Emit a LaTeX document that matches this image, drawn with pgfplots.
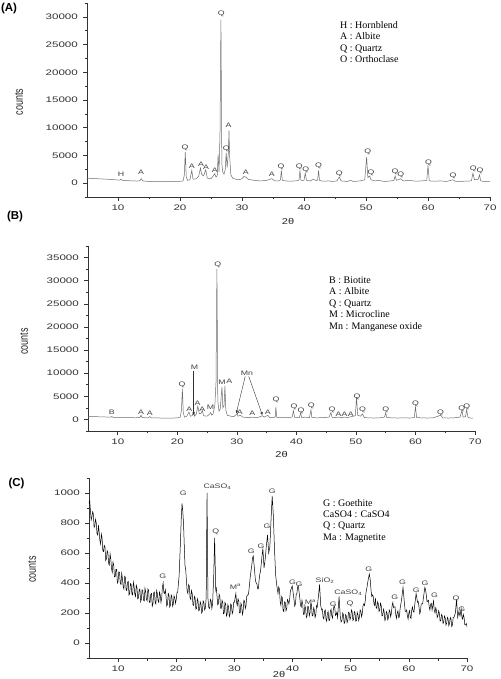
\documentclass[border=0pt]{standalone}
\usepackage{fontspec}
\setmainfont{Liberation Sans}
\newfontfamily\seriffont{Liberation Serif}
\usepackage{pgfplots}
\pgfplotsset{compat=1.18}
\usetikzlibrary{arrows.meta}
\definecolor{spec}{gray}{0.42}
\definecolor{axc}{gray}{0.2}
\begin{document}
\begin{tikzpicture}[
  pk/.style={font=\fontsize{6.5}{7}\selectfont, xscale=1.35, text=black!75, inner sep=0pt},
  leg/.style={font=\seriffont\fontsize{10}{11}\selectfont, anchor=base west, inner sep=0pt},
  plab/.style={font=\bfseries\fontsize{11.5}{12}\selectfont, inner sep=0pt},
  ylab/.style={font=\fontsize{9}{10}\selectfont, rotate=90, inner sep=0pt, text=black!85},
  tlab/.style={font=\fontsize{8.5}{9}\selectfont, inner sep=0pt, text=black!85, xscale=1.3}
]
\pgfplotsset{xrd/.style={
  scale only axis, axis lines*=left, tick align=outside,
  axis line style={axc, line width=0.7pt},
  every tick/.style={axc, line width=0.6pt},
  major tick length=4pt, minor tick length=2.5pt,
  xmin=5, xmax=70, xtick={10,20,...,70}, minor xtick={15,25,...,65},
  scaled y ticks=false,
  tick label style={font=\fontsize{8}{9}\selectfont, text=black!80, xscale=1.45},
  /pgf/number format/assume math mode=true,
  /pgf/number format/1000 sep={},
  clip=false
}}
% ---------------- Panel A ----------------
\begin{axis}[xrd, at={(87pt,482pt)}, anchor=south west, width=403pt, height=194pt,
  ymin=-2500, ymax=32500, ytick={0,5000,...,30000}, minor ytick={-2500,2500,...,32500}]
\addplot[spec, line width=0.5pt] coordinates {
(5,900)(6,830)(7,780)(8,720)(9,650)(10,560)(10.3,560)(10.5,700)(10.7,520)(11,480)(12,420)(13,380)
(13.5,400)(13.75,800)(14.0,400)(15,300)(16,280)(17,280)(18,280)(19,300)(20,330)(20.5,400)(20.7,1500)
(20.85,5600)(21.0,1200)(21.2,500)(21.6,600)(21.9,2300)(22.1,700)(22.6,800)(23.0,1200)(23.3,2700)
(23.5,1600)(23.8,1300)(24.15,2400)(24.4,900)(25.0,800)(25.3,1200)(25.6,1700)(25.8,1100)(26.0,1300)
(26.15,5200)(26.3,2000)(26.45,9000)(26.6,29500)(26.75,3500)(26.9,2000)(27.1,1600)(27.3,2500)
(27.45,5500)(27.6,2800)(27.8,5500)(27.9,9500)(28.0,5000)(28.2,1500)(28.5,900)(29,700)(29.5,600)
(30,800)(30.3,1200)(30.6,1100)(31,700)(31.5,600)(32,500)(33,400)(34,500)(34.8,800)(35.3,400)
(36,400)(36.2,600)(36.35,2300)(36.5,500)(37,400)(38,350)(39,450)(39.2,600)(39.35,2300)(39.5,500)
(40.0,500)(40.2,1800)(40.4,500)(41,400)(41.5,700)(42,450)(42.2,600)(42.35,2300)(42.5,500)(43,350)
(44,400)(44.5,300)(45.3,400)(45.7,1100)(46,400)(47,300)(47.5,500)(48,300)(49,400)(49.8,600)
(50.1,4700)(50.3,1000)(50.6,1300)(50.8,600)(51.5,400)(52,500)(53,300)(54,400)(54.5,500)(54.7,1300)
(54.9,500)(55.6,800)(56,400)(57,500)(58,350)(59,400)(59.8,500)(60.0,3200)(60.2,400)(61,350)
(62,400)(63,300)(64,600)(64.5,300)(66,350)(67,400)(67.25,1800)(67.5,600)(68.1,700)(68.3,1500)
(68.5,400)(69,300)(70,300)};
\node[pk] at (axis cs:10.5,1560) {H};
\node[pk] at (axis cs:13.7,1920) {A};
\node[pk] at (axis cs:20.8,6350) {Q};
\node[pk] at (axis cs:21.9,3060) {A};
\node[pk] at (axis cs:23.4,3360) {A};
\node[pk] at (axis cs:24.2,2930) {A};
\node[pk] at (axis cs:25.6,2340) {A};
\node[pk] at (axis cs:26.65,30630) {Q};
\node[pk] at (axis cs:27.46,6240) {Q};
\node[pk] at (axis cs:27.85,10430) {A};
\node[pk] at (axis cs:30.6,2030) {A};
\node[pk] at (axis cs:34.8,1620) {A};
\node[pk] at (axis cs:36.3,3000) {Q};
\node[pk] at (axis cs:39.25,2930) {Q};
\node[pk] at (axis cs:40.3,2460) {Q};
\node[pk] at (axis cs:42.35,3060) {Q};
\node[pk] at (axis cs:45.7,1740) {Q};
\node[pk] at (axis cs:50.3,5580) {Q};
\node[pk] at (axis cs:50.8,1920) {Q};
\node[pk] at (axis cs:54.7,2030) {Q};
\node[pk] at (axis cs:55.6,1440) {Q};
\node[pk] at (axis cs:60.1,3650) {Q};
\node[pk] at (axis cs:64.05,1310) {Q};
\node[pk] at (axis cs:67.3,2570) {Q};
\node[pk] at (axis cs:68.4,2280) {Q};
\end{axis}
% ---------------- Panel B ----------------
\begin{axis}[xrd, at={(88pt,248pt)}, anchor=south west, width=387pt, height=185pt,
  ymin=-2500, ymax=37500, ytick={0,5000,...,35000}, minor ytick={-2500,2500,...,37500}]
\addplot[spec, line width=0.5pt] coordinates {
(5,650)(6,600)(7,570)(8,530)(8.8,480)(9.0,650)(9.2,460)(10,430)(11,400)(12,380)(13,360)(13.7,400)
(13.9,900)(14.1,380)(15,350)(15.4,600)(15.6,340)(16,320)(17,310)(18,300)(19,300)(20,320)(20.5,500)
(20.7,2000)(20.85,6650)(21.0,1500)(21.2,500)(21.6,700)(21.95,1600)(22.2,700)(22.5,800)(22.75,1800)
(22.9,700)(23.2,1200)(23.45,2900)(23.7,1200)(24.0,1300)(24.2,2000)(24.4,800)(25.0,700)(25.3,1000)
(25.6,1500)(25.8,900)(26.0,1200)(26.3,3000)(26.5,8000)(26.65,32500)(26.8,4000)(27.0,1800)(27.2,2200)
(27.5,7000)(27.65,2500)(27.85,3000)(28.0,7300)(28.15,2000)(28.4,900)(29,700)(29.5,600)(30.0,1200)
(30.2,700)(30.6,900)(31,500)(31.5,450)(32,400)(32.7,500)(33,400)(33.5,400)(34.3,800)(34.6,500)
(35.2,900)(35.5,400)(36.2,400)(36.45,600)(36.55,2700)(36.7,450)(37.5,380)(38.5,400)(39.3,500)
(39.5,1900)(39.7,450)(40.5,400)(40.7,1400)(40.9,400)(41.5,500)(42.2,400)(42.45,2100)(42.6,400)
(43.5,350)(44.5,400)(45.5,500)(45.8,1500)(46.0,450)(46.5,400)(47.1,500)(47.6,400)(48.1,500)
(48.6,400)(49.2,600)(49.9,800)(50.1,4800)(50.3,900)(50.8,700)(51.1,1200)(51.4,400)(52,350)(53,300)
(54,350)(54.8,500)(55.0,1400)(55.2,400)(56,350)(57,300)(58,350)(59,300)(59.8,400)(60.0,2700)
(60.2,400)(61,350)(62,300)(63,350)(64.2,900)(64.6,350)(65.5,300)(66.5,350)(67.5,500)(67.8,1900)
(68.0,500)(68.4,600)(68.6,2100)(68.8,500)(69.2,300)(69.7,300)};
\node[pk] at (axis cs:9.0,1450) {B};
\node[pk] at (axis cs:13.9,1520) {A};
\node[pk] at (axis cs:15.4,1230) {A};
\node[pk] at (axis cs:20.8,7580) {Q};
\node[pk] at (axis cs:22.0,2160) {A};
\node[pk] at (axis cs:22.9,11300) {M};
\node[pk] at (axis cs:23.4,3530) {A};
\node[pk] at (axis cs:24.2,2160) {A};
\node[pk] at (axis cs:25.6,2660) {M};
\node[pk] at (axis cs:26.8,33330) {Q};
\node[pk] at (axis cs:27.5,7940) {M};
\node[pk] at (axis cs:28.75,8290) {A};
\node[pk] at (axis cs:31.7,10020) {Mn};
\node[pk] at (axis cs:30.5,1520) {A};
\node[pk] at (axis cs:32.6,1370) {A};
\node[pk] at (axis cs:35.2,1520) {A};
\node[pk] at (axis cs:36.6,4260) {Q};
\node[pk] at (axis cs:39.6,2660) {Q};
\node[pk] at (axis cs:40.8,1800) {Q};
\node[pk] at (axis cs:42.5,3030) {Q};
\node[pk] at (axis cs:46.0,2160) {Q};
\node[pk] at (axis cs:47.1,1080) {A};
\node[pk] at (axis cs:48.1,1080) {A};
\node[pk] at (axis cs:49.15,1080) {A};
\node[pk] at (axis cs:50.2,4830) {Q};
\node[pk] at (axis cs:51.1,2100) {Q};
\node[pk] at (axis cs:55.0,2160) {Q};
\node[pk] at (axis cs:60.0,3400) {Q};
\node[pk] at (axis cs:64.2,1450) {Q};
\node[pk] at (axis cs:67.8,2320) {Q};
\node[pk] at (axis cs:68.6,2660) {Q};
\draw[black!80, line width=0.4pt, -{Latex[length=3pt,width=2.5pt]}] (axis cs:22.75,10400) -- (axis cs:22.75,900);
\draw[black!80, line width=0.4pt, -{Latex[length=3pt,width=2.5pt]}] (axis cs:31.4,9300) -- (axis cs:29.9,1300);
\draw[black!80, line width=0.4pt, -{Latex[length=3pt,width=2.5pt]}] (axis cs:32.0,9300) -- (axis cs:34.3,900);
\end{axis}
% ---------------- Panel C ----------------
\begin{axis}[xrd, at={(89pt,21pt)}, anchor=south west, width=378pt, height=180pt,
  ymin=-100, ymax=1100, ytick={0,200,...,1000}, minor ytick={-100,100,...,1100}]
\addplot[black, line width=0.5pt] coordinates {
(5.000,930)(5.125,950)(5.250,880)(5.375,820)(5.500,840)(5.625,875)(5.750,860)(5.875,770)(6.000,780)
(6.125,825)(6.250,800)(6.375,730)(6.500,720)(6.625,785)(6.750,740)(6.875,680)(7.000,660)(7.125,725)
(7.250,700)(7.375,615)(7.500,610)(7.625,650)(7.750,640)(7.875,550)(8.000,560)(8.125,615)(8.250,600)
(8.375,530)(8.500,520)(8.625,595)(8.750,560)(8.875,495)(9.000,470)(9.125,540)(9.250,520)(9.375,440)
(9.500,440)(9.625,490)(9.750,490)(9.875,400)(10.000,410)(10.125,475)(10.250,470)(10.375,400)
(10.500,390)(10.625,465)(10.750,430)(10.875,375)(11.000,360)(11.125,445)(11.250,440)(11.375,355)
(11.500,350)(11.625,405)(11.750,410)(11.875,320)(12.000,330)(12.125,395)(12.250,390)(12.375,325)
(12.500,320)(12.625,405)(12.750,380)(12.875,325)(13.000,310)(13.125,385)(13.250,370)(13.375,295)
(13.500,300)(13.625,355)(13.750,360)(13.875,275)(14.000,290)(14.125,355)(14.250,350)(14.375,285)
(14.500,280)(14.625,365)(14.750,340)(14.875,290)(15.000,280)(15.125,360)(15.250,350)(15.375,270)
(15.500,270)(15.625,325)(15.750,330)(15.875,245)(16.000,260)(16.125,335)(16.250,340)(16.375,270)
(16.500,260)(16.625,350)(16.750,330)(16.875,280)(17.000,270)(17.125,340)(17.250,320)(17.375,270)
(17.500,300)(17.625,375)(17.750,400)(17.875,335)(18.000,330)(18.125,355)(18.250,310)(18.375,245)
(18.500,260)(18.625,330)(18.750,320)(18.875,240)(19.000,250)(19.125,320)(19.250,310)(19.375,245)
(19.500,260)(19.625,315)(19.750,300)(19.875,265)(20.000,290)(20.125,335)(20.250,340)(20.375,395)
(20.500,450)(20.625,575)(20.750,700)(20.875,840)(21.000,930)(21.125,880)(21.250,800)(21.375,660)
(21.500,520)(21.625,490)(21.750,420)(21.875,345)(22.000,330)(22.125,390)(22.250,380)(22.375,300)
(22.500,290)(22.625,350)(22.750,330)(22.875,255)(23.000,250)(23.125,310)(23.250,300)(23.375,225)
(23.500,230)(23.625,295)(23.750,280)(23.875,215)(24.000,220)(24.125,275)(24.250,260)(24.375,200)
(24.500,210)(24.625,280)(24.750,270)(24.875,220)(25.000,230)(25.150,300)(25.300,1000)(25.450,300)
(25.600,235)(25.750,230)(25.875,290)(26.000,280)(26.125,230)(26.250,260)(26.450,450)(26.600,700)
(26.800,350)(26.900,365)(27.000,320)(27.125,255)(27.250,260)(27.375,325)(27.500,310)(27.625,230)
(27.750,230)(27.875,285)(28.000,270)(28.125,195)(28.250,200)(28.375,270)(28.500,260)(28.625,180)
(28.750,190)(28.875,255)(29.000,240)(29.125,175)(29.250,190)(29.375,260)(29.500,250)(29.625,195)
(29.750,210)(29.875,270)(30.000,270)(30.125,300)(30.250,330)(30.375,270)(30.500,250)(30.625,295)
(30.750,280)(30.875,200)(31.000,200)(31.125,265)(31.250,250)(31.375,190)(31.500,210)(31.625,285)
(31.750,280)(31.875,230)(32.000,250)(32.125,310)(32.250,320)(32.375,320)(32.500,350)(32.625,400)
(32.750,450)(32.875,485)(33.000,520)(33.125,570)(33.250,580)(33.375,525)(33.500,470)(33.625,415)
(33.750,400)(33.875,395)(34.000,360)(34.125,360)(34.250,420)(34.375,460)(34.500,480)(34.625,530)
(34.750,580)(34.900,630)(35.100,500)(35.300,560)(35.500,650)(35.700,720)(35.900,600)(36.100,640)
(36.300,820)(36.500,980)(36.700,850)(36.900,620)(37.100,450)(37.300,380)(37.500,330)(37.625,375)
(37.750,360)(37.875,275)(38.000,250)(38.125,310)(38.250,300)(38.375,215)(38.500,210)(38.625,275)
(38.750,270)(38.875,215)(39.000,230)(39.125,290)(39.250,280)(39.375,260)(39.500,290)(39.625,345)
(39.750,360)(39.950,380)(40.100,335)(40.250,290)(40.375,245)(40.500,260)(40.625,325)(40.750,330)
(40.875,375)(41.000,380)(41.125,340)(41.250,300)(41.375,250)(41.500,240)(41.625,285)(41.750,260)
(41.875,190)(42.000,190)(42.125,250)(42.250,230)(42.375,170)(42.500,180)(42.625,245)(42.750,240)
(42.875,180)(43.000,200)(43.125,260)(43.250,260)(43.375,180)(43.500,180)(43.625,235)(43.750,220)
(43.875,170)(44.000,190)(44.125,250)(44.250,240)(44.375,285)(44.500,330)(44.650,390)(44.850,250)
(45.000,220)(45.125,225)(45.250,170)(45.375,160)(45.500,210)(45.625,220)(45.750,160)(45.875,145)
(46.000,200)(46.125,210)(46.250,150)(46.375,150)(46.500,210)(46.625,225)(46.750,180)(46.875,165)
(47.000,220)(47.125,245)(47.250,240)(47.375,185)(47.500,190)(47.625,205)(47.750,170)(47.875,240)
(48.000,310)(48.200,180)(48.350,140)(48.500,150)(48.625,200)(48.750,190)(48.875,130)(49.000,140)
(49.125,190)(49.250,180)(49.375,135)(49.500,150)(49.625,205)(49.750,200)(49.875,155)(50.000,170)
(50.125,220)(50.250,210)(50.375,150)(50.500,160)(50.625,210)(50.750,200)(50.875,145)(51.000,150)
(51.125,205)(51.250,190)(51.375,150)(51.500,170)(51.625,220)(51.750,210)(51.875,175)(52.000,200)
(52.125,250)(52.250,260)(52.375,250)(52.500,280)(52.625,335)(52.750,360)(52.875,390)(53.000,420)
(53.200,460)(53.350,425)(53.500,350)(53.625,310)(53.750,320)(53.875,310)(54.000,260)(54.125,250)
(54.250,300)(54.375,235)(54.500,230)(54.625,275)(54.750,260)(54.875,210)(55.000,220)(55.125,265)
(55.250,250)(55.375,180)(55.500,180)(55.625,225)(55.750,210)(55.875,150)(56.000,160)(56.125,210)
(56.250,200)(56.375,155)(56.500,170)(56.625,220)(56.750,210)(56.875,175)(57.000,200)(57.125,250)
(57.250,270)(57.375,235)(57.500,240)(57.625,240)(57.750,190)(57.875,165)(58.000,200)(58.125,215)
(58.250,170)(58.375,175)(58.500,230)(58.625,260)(58.750,290)(58.875,330)(59.000,370)(59.125,315)
(59.250,260)(59.375,210)(59.500,210)(59.625,220)(59.750,180)(59.875,160)(60.000,200)(60.125,215)
(60.250,170)(60.375,165)(60.500,220)(60.625,240)(60.750,210)(60.875,205)(61.000,250)(61.125,290)
(61.250,330)(61.375,300)(61.500,270)(61.625,275)(61.750,240)(61.875,195)(62.000,210)(62.125,260)
(62.250,260)(62.375,260)(62.500,300)(62.625,335)(62.750,370)(62.875,355)(63.000,320)(63.125,275)
(63.250,280)(63.375,285)(63.500,240)(63.625,220)(63.750,260)(63.875,265)(64.000,220)(64.125,250)
(64.250,280)(64.375,215)(64.500,200)(64.625,235)(64.750,220)(64.875,170)(65.000,180)(65.125,215)
(65.250,200)(65.375,145)(65.500,150)(65.625,190)(65.750,180)(65.875,130)(66.000,140)(66.125,180)
(66.250,170)(66.375,120)(66.500,130)(66.625,170)(66.750,160)(66.875,115)(67.000,130)(67.125,170)
(67.250,160)(67.375,110)(67.500,120)(67.625,170)(67.750,170)(67.875,185)(68.000,200)(68.200,290)
(68.400,170)(68.600,210)(68.800,180)(69.000,230)(69.125,170)(69.250,160)(69.375,190)(69.500,170)
(69.625,120)(69.750,120)(69.875,130)(70.000,110)};
\node[pk] at (axis cs:17.7,447) {G};
\node[pk] at (axis cs:21.2,995) {G};
\node[pk] at (axis cs:27.1,1040) {CaSO\textsubscript{4}};
\node[pk] at (axis cs:26.8,740) {Q};
\node[pk] at (axis cs:30.2,375) {M\textsuperscript{a}};
\node[pk] at (axis cs:32.9,609) {G};
\node[pk] at (axis cs:34.6,647) {G};
\node[pk] at (axis cs:35.6,780) {G};
\node[pk] at (axis cs:36.5,1011) {G};
\node[pk] at (axis cs:40.0,402) {G};
\node[pk] at (axis cs:41.1,391) {G};
\node[pk] at (axis cs:45.6,413) {SiO\textsubscript{2}};
\node[pk] at (axis cs:43.1,273) {M\textsuperscript{a}};
\node[pk] at (axis cs:47.0,258) {G};
\node[pk] at (axis cs:49.6,335) {CaSO\textsubscript{4}};
\node[pk] at (axis cs:49.9,258) {Q};
\node[pk] at (axis cs:53.1,491) {G};
\node[pk] at (axis cs:57.6,302) {G};
\node[pk] at (axis cs:58.9,402) {G};
\node[pk] at (axis cs:61.3,353) {G};
\node[pk] at (axis cs:62.8,396) {G};
\node[pk] at (axis cs:64.4,316) {G};
\node[pk] at (axis cs:68.1,296) {Q};
\node[pk] at (axis cs:69.1,224) {G};
\end{axis}
% ---------------- texts ----------------
\node[plab] at (9pt,670pt) {(A)};
\node[plab] at (15pt,462pt) {(B)};
\node[plab] at (16.5pt,195pt) {(C)};
\node[ylab] at (19pt,577pt) {\scalebox{1}[1.35]{counts}};
\node[ylab] at (24pt,337.5pt) {\scalebox{1}[1.35]{counts}};
\node[ylab] at (32pt,109.5pt) {\scalebox{1}[1.35]{counts}};
\node[tlab] at (288pt,458pt) {2θ};
\node[tlab] at (281.5pt,225pt) {2θ};
\node[tlab] at (279pt,5pt) {2θ};
\node[leg] at (340pt,650.7pt) {H : Hornblend};
\node[leg] at (340pt,639.3pt) {A : Albite};
\node[leg] at (340pt,627.7pt) {Q : Quartz};
\node[leg] at (340pt,616.1pt) {O : Orthoclase};
\node[leg] at (329pt,395.7pt) {B : Biotite};
\node[leg] at (329pt,384.2pt) {A : Albite};
\node[leg] at (329pt,372.7pt) {Q : Quartz};
\node[leg] at (329pt,361.2pt) {M : Microcline};
\node[leg] at (329pt,349.7pt) {Mn : Manganese oxide};
\node[leg] at (323pt,172.7pt) {G : Goethite};
\node[leg] at (323pt,161.7pt) {CaSO4 : CaSO4};
\node[leg] at (323pt,150.4pt) {Q : Quartz};
\node[leg] at (323pt,138.9pt) {Ma : Magnetite};
\pgfresetboundingbox
\useasboundingbox (0pt,0pt) rectangle (500pt,679pt);
\end{tikzpicture}
\end{document}
